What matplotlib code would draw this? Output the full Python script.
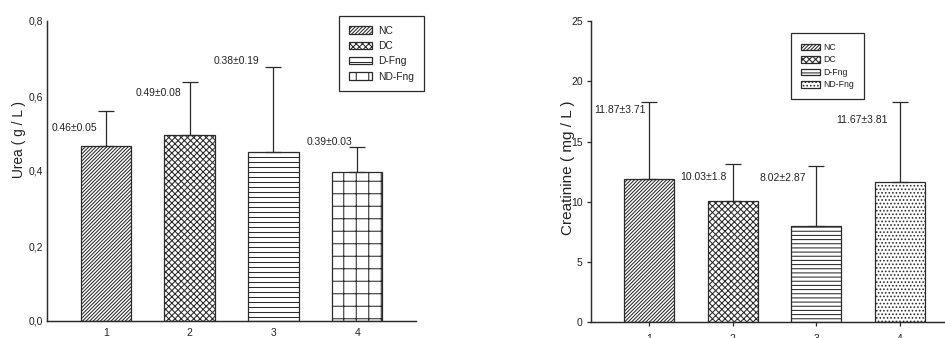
import matplotlib
matplotlib.use("Agg")
import matplotlib.pyplot as plt
import numpy as np

plt.rcParams['font.family'] = ['Liberation Sans', 'DejaVu Sans']
plt.rcParams['hatch.linewidth'] = 0.5

# ---------------- data ----------------
groups = ['NC', 'DC', 'D-Fng', 'ND-Fng']
positions = [1, 2, 3, 4]
xtick_labels = ['1', '2', '3', '4']

urea_mean = [0.467, 0.495, 0.450, 0.397]
urea_err = [0.092, 0.143, 0.228, 0.067]
urea_text = ['0.46±0.05', '0.49±0.08', '0.38±0.19', '0.39±0.03']
urea_text_x = [0.63, 1.634, 2.56, 3.67]
urea_text_y = [0.515, 0.608, 0.693, 0.477]
urea_yticks = [0.0, 0.2, 0.4, 0.6, 0.8]
urea_ytick_labels = ['0,0', '0,2', '0,4', '0,6', '0,8']

crea_mean = [11.87, 10.03, 8.02, 11.67]
crea_err = [6.44, 3.10, 4.98, 6.62]
crea_text = ['11.87±3.71', '10.03±1.8', '8.02±2.87', '11.67±3.81']
crea_text_x = [0.655, 1.654, 2.594, 3.542]
crea_text_y = [17.62, 12.08, 12.0, 16.79]
crea_yticks = [0, 5, 10, 15, 20, 25]
crea_ytick_labels = ['0', '5', '10', '15', '20', '25']

hatch_left = ['/' * 14, 'x' * 8, '-----', '++']
hatch_right = ['/' * 14, 'x' * 8, '------', '.......']

# ---------------- figure ----------------
DPI = 150
fig = plt.figure(figsize=(945 / DPI, 338 / DPI), dpi=DPI)
dark = '#2a2a2a'
txt = '#222222'

def style_axes(ax, ticklen):
    for s in ['top', 'right']:
        ax.spines[s].set_visible(False)
    for s in ['left', 'bottom']:
        ax.spines[s].set_linewidth(0.7)
        ax.spines[s].set_color(dark)
    ax.tick_params(axis='both', length=ticklen, width=0.6, color=dark,
                   labelsize=5.0, labelcolor=txt, direction='out')

# Left: Urea
axL = fig.add_axes([47 / 945, 1 - 321 / 338, 369 / 945, 300 / 338])
for i in range(4):
    axL.bar(positions[i], urea_mean[i], width=0.6, color='white',
            edgecolor=dark, linewidth=0.6, hatch=hatch_left[i],
            label=groups[i], zorder=2)
axL.errorbar(positions, urea_mean,
             yerr=[np.zeros(len(urea_err)), urea_err], fmt='none',
             ecolor=dark, elinewidth=0.6, capsize=3.8, capthick=0.6, zorder=3)
for x, y, t in zip(urea_text_x, urea_text_y, urea_text):
    axL.text(x, y, t, ha='center', va='center', fontsize=4.9, color=txt)
axL.set_xlim(0.3, 4.7)
axL.set_ylim(0, 0.8)
axL.set_xticks(positions)
axL.set_xticklabels(xtick_labels)
axL.set_yticks(urea_yticks)
axL.set_yticklabels(urea_ytick_labels)
style_axes(axL, 0)
axL.tick_params(axis='y', pad=2.0)
axL.tick_params(axis='x', pad=3.2)
legL = axL.legend(loc='upper left', bbox_to_anchor=(339 / 945, 1 - 16 / 338),
                  bbox_transform=fig.transFigure, borderaxespad=0,
                  fontsize=4.9, handlelength=2.3, handleheight=0.75,
                  handletextpad=0.6, labelspacing=0.52, borderpad=0.95,
                  fancybox=False, framealpha=1, edgecolor=dark)
legL.get_frame().set_linewidth(0.6)
for t in legL.get_texts():
    t.set_color(txt)
fig.text(19 / 945, 1 - 140 / 338, 'Urea ( g / L )', rotation=90,
         ha='center', va='center', fontsize=6.6, color=txt)

# Right: Creatinine
axR = fig.add_axes([590.7 / 945, 1 - 322.3 / 338, 367.8 / 945, 301.3 / 338])
for i in range(4):
    axR.bar(positions[i], crea_mean[i], width=0.6, color='white',
            edgecolor=dark, linewidth=0.6, hatch=hatch_right[i],
            label=groups[i], zorder=2)
axR.errorbar(positions, crea_mean,
             yerr=[np.zeros(len(crea_err)), crea_err], fmt='none',
             ecolor=dark, elinewidth=0.6, capsize=3.8, capthick=0.6, zorder=3)
for x, y, t in zip(crea_text_x, crea_text_y, crea_text):
    axR.text(x, y, t, ha='center', va='center', fontsize=5.0, color=txt)
axR.set_xlim(0.3, 4.7)
axR.set_ylim(0, 25)
axR.set_xticks(positions)
axR.set_xticklabels(xtick_labels)
axR.set_yticks(crea_yticks)
axR.set_yticklabels(crea_ytick_labels)
style_axes(axR, 1.9)
axR.tick_params(axis='y', pad=2.0)
axR.tick_params(axis='x', pad=3.5)
legR = axR.legend(loc='upper left', bbox_to_anchor=(791 / 945, 1 - 33.3 / 338),
                  bbox_transform=fig.transFigure, borderaxespad=0,
                  fontsize=4.2, handlelength=2.2, handleheight=0.8,
                  handletextpad=0.4, labelspacing=0.4, borderpad=1.1,
                  fancybox=False, framealpha=1, edgecolor=dark)
legR.get_frame().set_linewidth(0.6)
for t in legR.get_texts():
    t.set_color(txt)
fig.text(568 / 945, 1 - 167.5 / 338, 'Creatinine ( mg / L )', rotation=90,
         ha='center', va='center', fontsize=7.3, color=txt)

fig.savefig('out.png', dpi=DPI)
